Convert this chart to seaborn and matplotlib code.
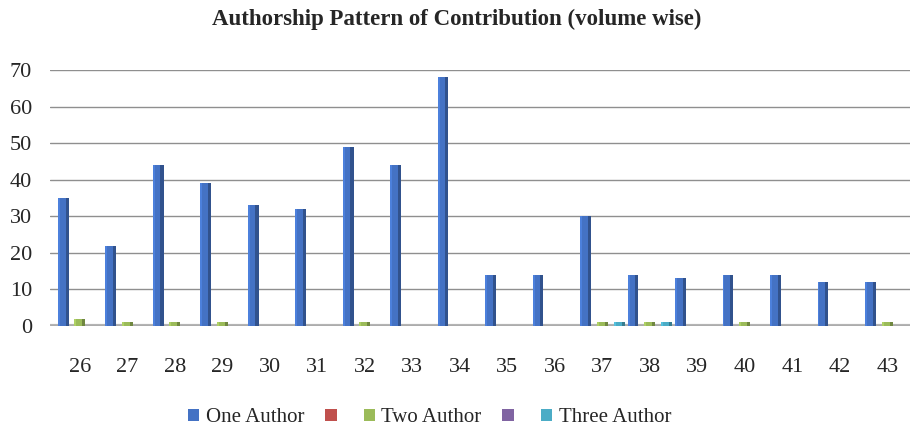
import numpy as np
import pandas as pd
import seaborn as sns
import matplotlib
matplotlib.use("Agg")
import matplotlib.pyplot as plt
from matplotlib.patches import Patch

# Volumes and author counts per volume
volumes = ["26", "27", "28", "29", "30", "31", "32", "33", "34",
           "35", "36", "37", "38", "39", "40", "41", "42", "43"]
one_author = [35, 22, 44, 39, 33, 32, 49, 44, 68, 14, 14, 30, 14, 13, 14, 14, 12, 12]
series_2 = [0] * 18
two_author = [2, 1, 1, 1, 0, 0, 1, 0, 0, 0, 0, 1, 1, 0, 1, 0, 0, 1]
series_4 = [0] * 18
three_author = [0, 0, 0, 0, 0, 0, 0, 0, 0, 0, 0, 1, 1, 0, 0, 0, 0, 0]

series_names = ["One Author", "Series 2", "Two Author", "Series 4", "Three Author"]
legend_labels = ["One Author", "", "Two Author", "", "Three Author"]
colors = ["#4472C4", "#C0504D", "#9BBB59", "#8064A2", "#4BACC6"]

frames = []
for name, vals in zip(series_names, [one_author, series_2, two_author, series_4, three_author]):
    frames.append(pd.DataFrame({"Volume": volumes, "Series": name, "Count": vals}))
df = pd.concat(frames, ignore_index=True)

sns.set_style("white")
plt.rcParams["font.family"] = ["Liberation Serif", "DejaVu Serif"]

fig = plt.figure(figsize=(9.14, 4.32), dpi=100)
ax = fig.add_axes([0.0547, 0.2454, 0.941, 0.5926])

sns.barplot(data=df, x="Volume", y="Count", hue="Series", hue_order=series_names,
            palette=colors, width=0.885, ax=ax, legend=False, saturation=1,
            edgecolor="none")

# widen each column around its centre and shade its sides for depth
bar_w = 0.23
for patch in list(ax.patches):
    h = patch.get_height()
    cx = patch.get_x() + patch.get_width() / 2
    patch.set_x(cx - bar_w / 2)
    patch.set_width(bar_w)
    if h > 0:
        fc = np.array(matplotlib.colors.to_rgb(patch.get_facecolor()))
        ax.add_patch(plt.Rectangle((cx + bar_w * 0.22, 0), bar_w * 0.28, h,
                                   color=fc * 0.72, lw=0, zorder=patch.get_zorder() + 0.1))
        ax.add_patch(plt.Rectangle((cx - bar_w / 2, 0), bar_w * 0.18, h,
                                   color=np.minimum(fc * 1.12, 1), lw=0,
                                   zorder=patch.get_zorder() + 0.1))

ax.set_ylim(0, 70)
ax.set_xlim(-0.63, 17.48)
ax.set_yticks(range(0, 71, 10))
ax.yaxis.grid(True, color="#8f8f8f", linewidth=1.0)
ax.set_axisbelow(True)
for s in ax.spines.values():
    s.set_visible(False)
ax.axhline(0, color="#b4b4b4", linewidth=3, zorder=0.5)

ax.set_xlabel("")
ax.set_ylabel("")
ax.tick_params(axis="y", labelsize=16, pad=13, length=0)
ax.tick_params(axis="x", labelsize=16, pad=23, length=0)

fig.text(0.5, 0.955, "Authorship Pattern of Contribution (volume wise)",
         ha="center", va="center", fontsize=16.5, fontweight="bold")

handles = [Patch(facecolor=c, edgecolor="none") for c in colors]
fig.legend(handles, legend_labels, loc="center", bbox_to_anchor=(0.47, 0.033), ncol=5,
           frameon=False, fontsize=15, handlelength=0.55, handleheight=0.55,
           handletextpad=0.3, columnspacing=1.0)

fig.savefig("out.png", dpi=100)
